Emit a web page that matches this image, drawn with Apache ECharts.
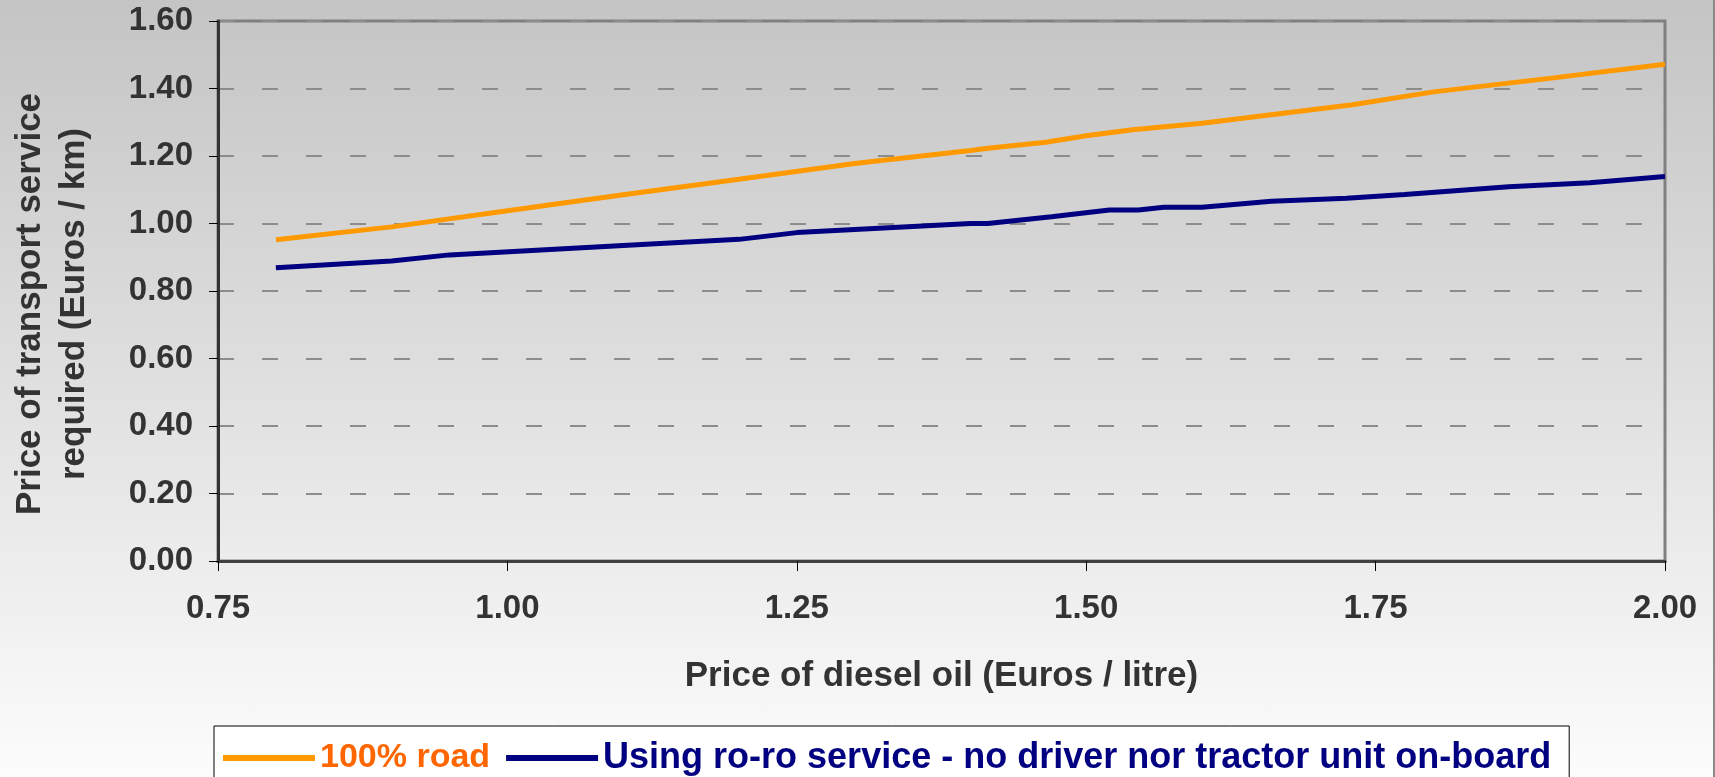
<!DOCTYPE html>
<html lang="en">

<head>
    <meta charset="UTF-8">
    <title>Price of transport service vs diesel oil</title>
    <style>
        * {
            margin: 0;
            padding: 0;
        }

        body {
            background: linear-gradient(#c4c4c4, #fcfcfc);
            width: 1715px;
            height: 777px;
            overflow: hidden;
        }

        #chart {
            width: 1715px;
            height: 777px;
            box-sizing: border-box;
            border-right: 2px solid #8a8a8a;
        }
    </style>
</head>

<body>
    <div id="chart"></div>
</body>

</html>
<script src="https://cdn.jsdelivr.net/npm/echarts@6/dist/echarts.min.js"></script>
<script>

    // diesel price (Euros / litre) -> transport price (Euros / km)
    const roadX = [0.80, 0.90, 1.00, 1.10, 1.20, 1.30, 1.40, 1.415, 1.465, 1.50, 1.54, 1.60, 1.73, 1.80, 1.90, 2.00];
    const roadY = [0.952, 0.990, 1.038, 1.085, 1.131, 1.178, 1.216, 1.223, 1.241, 1.260, 1.278, 1.297, 1.352, 1.390, 1.430, 1.472];

    const roroX = [0.80, 0.90, 0.95, 1.10, 1.20, 1.25, 1.40, 1.415, 1.47, 1.52, 1.545, 1.567, 1.60, 1.66, 1.725, 1.775, 1.865, 1.935, 2.00];
    const roroY = [0.869, 0.889, 0.907, 0.935, 0.953, 0.973, 1.000, 1.000, 1.020, 1.040, 1.040, 1.048, 1.048, 1.066, 1.075, 1.086, 1.109, 1.121, 1.139];

    const seriesNames = ['100% road', 'Using ro-ro service - no driver nor tractor unit on-board'];

    const font = "'Liberation Sans', Arial, sans-serif";

    var myChart = echarts.init(document.getElementById('chart'));

    myChart.setOption({
        backgroundColor: 'transparent',
        animation: false,
        grid: {
            left: 215,
            right: 48,
            top: 21,
            bottom: 216,
            show: true,
            backgroundColor: 'transparent',
            borderColor: '#808080',
            borderWidth: 3
        },
        xAxis: {
            type: 'value',
            min: 0.75,
            max: 2.0,
            interval: 0.25,
            name: 'Price of diesel oil (Euros / litre)',
            nameLocation: 'middle',
            nameGap: 98,
            nameTextStyle: { fontFamily: font, fontWeight: 'bold', fontSize: 35, color: '#333' },
            axisLine: { lineStyle: { color: '#404040', width: 3 } },
            axisTick: { show: true, length: 10, lineStyle: { color: '#000', width: 1 } },
            axisLabel: {
                margin: 31,
                fontFamily: font, fontWeight: 'bold', fontSize: 33, color: '#333',
                formatter: (v) => v.toFixed(2)
            },
            splitLine: { show: false }
        },
        yAxis: {
            type: 'value',
            min: 0,
            max: 1.6,
            interval: 0.2,
            name: 'Price of transport service\nrequired (Euros / km)',
            nameLocation: 'middle',
            nameRotate: 90,
            nameGap: 122,
            nameTextStyle: {
                fontFamily: font, fontWeight: 'bold', fontSize: 35, color: '#333',
                lineHeight: 44, padding: [0, 26, 0, 0]
            },
            axisLine: { show: true, lineStyle: { color: '#333', width: 3 } },
            axisTick: { show: true, length: 9, lineStyle: { color: '#000', width: 1 } },
            axisLabel: {
                margin: 25,
                fontFamily: font, fontWeight: 'bold', fontSize: 33, color: '#333',
                formatter: (v) => v.toFixed(2)
            },
            splitLine: {
                show: true,
                lineStyle: { color: '#8c8c8c', width: 2, type: [16, 28] }
            }
        },
        legend: {
            left: 214,
            top: 726,
            orient: 'horizontal',
            backgroundColor: '#fff',
            borderColor: '#000',
            borderWidth: 1,
            borderRadius: 0,
            padding: [14, 18, 24, 9],
            itemWidth: 92,
            itemHeight: 6,
            itemGap: 16,
            icon: 'rect',
            textStyle: { fontFamily: font, fontWeight: 'bold', fontSize: 35 },
            data: [
                { name: seriesNames[0], textStyle: { color: '#ff6600', fontSize: 34 } },
                { name: seriesNames[1], textStyle: { color: '#000080', fontSize: 36 } }
            ]
        },
        series: [
            {
                name: seriesNames[0],
                type: 'line',
                data: roadX.map((x, i) => [x, roadY[i]]),
                showSymbol: false,
                symbol: 'none',
                color: '#ff9900',
                lineStyle: { color: '#ff9900', width: 5 }
            },
            {
                name: seriesNames[1],
                type: 'line',
                data: roroX.map((x, i) => [x, roroY[i]]),
                showSymbol: false,
                symbol: 'none',
                color: '#000080',
                lineStyle: { color: '#000080', width: 5 }
            }
        ]
    });

</script>
